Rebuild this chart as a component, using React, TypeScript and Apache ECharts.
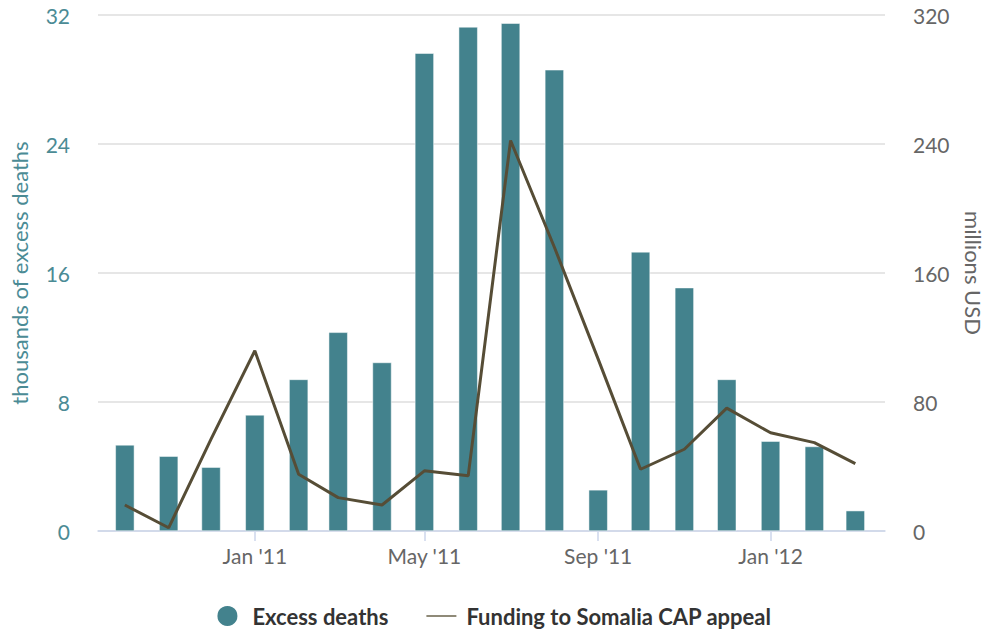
import React, { useEffect, useRef } from "react";
import * as echarts from "echarts";

const months = [
  [2010, 10], [2010, 11], [2010, 12],
  [2011, 1], [2011, 2], [2011, 3], [2011, 4], [2011, 5], [2011, 6],
  [2011, 7], [2011, 8], [2011, 9], [2011, 10], [2011, 11], [2011, 12],
  [2012, 1], [2012, 2], [2012, 3],
];
const excessDeaths = [5.34, 4.64, 3.96, 7.2, 9.4, 12.32, 10.45, 29.63, 31.26, 31.49, 28.6, 2.55, 17.31, 15.09, 9.4, 5.57, 5.24, 1.26];
const funding = [16.1, 2.0, 57, 111.8, 35.2, 20.7, 16.1, 37.3, 34.2, 242.2, 176, 106.6, 38.3, 50.7, 76.2, 60.9, 54.8, 41.8];
const tickMonths = [[2011, 1], [2011, 5], [2011, 9], [2012, 1]];
const tickLabels = ["Jan '11", "May '11", "Sep '11", "Jan '12"];
const leftTicks = [0, 8, 16, 24, 32];
const rightTicks = [0, 80, 160, 240, 320];

const ts = (y: number, m: number, d = 1) => Date.UTC(y, m - 1, d);

export default function App() {
  const ref = useRef<HTMLDivElement>(null);
  useEffect(() => {
    if (!ref.current) return;
    const chart = echarts.init(ref.current, null, { renderer: "svg" });
    const tickTs = tickMonths.map(([y, m]) => ts(y, m));
    const font = "Lato, 'Noto Sans', sans-serif";
    chart.setOption({
      animation: false,
      textStyle: { fontFamily: font },
      grid: { left: 98, right: 102, top: 15, bottom: 101, outerBoundsMode: "none", containLabel: false },
      legend: {
        top: 604,
        left: "center",
        itemWidth: 30,
        itemHeight: 22,
        itemGap: 38,
        padding: 0,
        symbolKeepAspect: true,
        textStyle: { fontSize: 22, fontWeight: "bold", color: "#333333", fontFamily: font, padding: [0, 0, 0, 5] },
        data: [
          { name: "Excess deaths", icon: "circle" },
          {
            name: "Funding to Somalia CAP appeal",
            icon: "path://M0,0H30V2H0Z",
            itemStyle: { color: "#8f8a78", borderWidth: 0 },
          },
        ],
      },
      xAxis: {
        type: "value",
        min: ts(2010, 9, 12),
        max: ts(2012, 3, 22),
        axisLine: { onZero: false, lineStyle: { color: "#ccd6eb", width: 1.5 } },
        axisTick: { show: true, length: 10, lineStyle: { color: "#ccd6eb", width: 1.5 }, customValues: tickTs },
        axisLabel: {
          customValues: tickTs,
          color: "#666666",
          fontSize: 21,
          margin: 14,
          fontFamily: font,
          formatter: (v: number) => {
            const i = tickTs.indexOf(v);
            return i >= 0 ? tickLabels[i] : "";
          },
        },
        splitLine: { show: false },
      },
      yAxis: [
        {
          type: "value",
          min: leftTicks[0],
          max: leftTicks[leftTicks.length - 1],
          interval: 8,
          name: "thousands of excess deaths",
          nameLocation: "middle",
          nameGap: 68,
          nameTextStyle: { color: "#4b8b95", fontSize: 22, fontFamily: font },
          axisLabel: { color: "#4b8b95", fontSize: 21, margin: 28, fontFamily: font },
          axisLine: { show: false },
          axisTick: { show: false },
          splitLine: { lineStyle: { color: "#e6e6e6", width: 2 } },
        },
        {
          type: "value",
          min: rightTicks[0],
          max: rightTicks[rightTicks.length - 1],
          interval: 80,
          position: "right",
          name: "millions USD",
          nameLocation: "middle",
          nameRotate: -90,
          nameGap: 77,
          nameTextStyle: { color: "#666666", fontSize: 22, fontFamily: font },
          axisLabel: { color: "#666666", fontSize: 21, margin: 28, fontFamily: font },
          axisLine: { show: false },
          axisTick: { show: false },
          splitLine: { show: false },
        },
      ],
      series: [
        {
          name: "Excess deaths",
          type: "bar",
          yAxisIndex: 0,
          barWidth: 19,
          itemStyle: { color: "#43828d", borderColor: "#ffffff", borderWidth: 0.5 },
          data: months.map(([y, m], i) => [ts(y, m), excessDeaths[i]]),
        },
        {
          name: "Funding to Somalia CAP appeal",
          type: "line",
          yAxisIndex: 1,
          symbol: "none",
          showSymbol: false,
          lineStyle: { color: "#564d36", width: 3 },
          itemStyle: { color: "#564d36" },
          z: 3,
          data: months.map(([y, m], i) => [ts(y, m), funding[i]]),
        },
      ],
    });
    return () => chart.dispose();
  }, []);
  return <div ref={ref} style={{ width: 987, height: 632, position: "absolute", left: 0, top: 0 }} />;
}
